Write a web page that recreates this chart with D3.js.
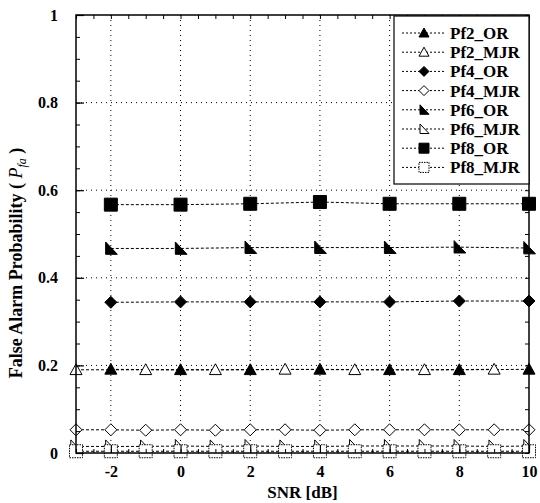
<!DOCTYPE html>
<html><head><meta charset="utf-8">
<script src="https://cdn.jsdelivr.net/npm/d3@7"></script>
<style>
html,body{margin:0;padding:0;background:#fff;}
text{font-family:"Liberation Serif","Times New Roman",serif;font-weight:bold;fill:#000;}
</style></head>
<body>
<svg id="chart" width="540" height="503"></svg>
<script>
// ---- data ----
const xEven = [-2, 0, 2, 4, 6, 8, 10];
const xOdd = [-3, -1, 1, 3, 5, 7, 9];
const xAll = [-3, -2, -1, 0, 1, 2, 3, 4, 5, 6, 7, 8, 9, 10];
const pf2_OR  = [0.191, 0.190, 0.190, 0.191, 0.190, 0.190, 0.191];
const pf2_MJR = [0.190, 0.190, 0.190, 0.191, 0.190, 0.190, 0.191];
const pf4_OR  = [0.344, 0.345, 0.345, 0.345, 0.345, 0.347, 0.347];
const pf4_MJR = [0.053, 0.053, 0.052, 0.053, 0.052, 0.053, 0.053, 0.052, 0.053, 0.053, 0.053, 0.053, 0.053, 0.053];
const pf6_OR  = [0.467, 0.467, 0.469, 0.469, 0.469, 0.470, 0.468];
const pf6_MJR = [0.015, 0.015, 0.015, 0.016, 0.015, 0.016, 0.015, 0.015, 0.016, 0.016, 0.016, 0.016, 0.015, 0.016];
const pf8_OR  = [0.567, 0.567, 0.569, 0.573, 0.569, 0.569, 0.569];
const pf8_MJR = [0.004, 0.004, 0.004, 0.004, 0.004, 0.004, 0.004, 0.004, 0.004, 0.004, 0.004, 0.004, 0.004, 0.004];
const seriesNames = ["Pf2_OR", "Pf2_MJR", "Pf4_OR", "Pf4_MJR", "Pf6_OR", "Pf6_MJR", "Pf8_OR", "Pf8_MJR"];
const xTickLabels = [-2, 0, 2, 4, 6, 8, 10];
const yTickLabels = [0, 0.2, 0.4, 0.6, 0.8, 1];

const series = [
  {name: seriesNames[0], xs: xEven, ys: pf2_OR, shape: "triUp", fill: true},
  {name: seriesNames[1], xs: xOdd, ys: pf2_MJR, shape: "triUp", fill: false},
  {name: seriesNames[2], xs: xEven, ys: pf4_OR, shape: "diamond", fill: true},
  {name: seriesNames[3], xs: xAll, ys: pf4_MJR, shape: "diamond", fill: false},
  {name: seriesNames[4], xs: xEven, ys: pf6_OR, shape: "rtri", fill: true},
  {name: seriesNames[5], xs: xAll, ys: pf6_MJR, shape: "rtri", fill: false},
  {name: seriesNames[6], xs: xEven, ys: pf8_OR, shape: "square", fill: true},
  {name: seriesNames[7], xs: xAll, ys: pf8_MJR, shape: "square", fill: false}
];

const svg = d3.select("#chart");
const L = 76, R = 529, T = 15, B = 453;
const x = d3.scaleLinear().domain([-3, 10]).range([L, R]);
const y = d3.scaleLinear().domain([0, 1]).range([B, T]);

function shapePath(shape, s) {
  if (shape === "triUp") return `M0,${-s}L${s},${s*0.8}L${-s},${s*0.8}Z`;
  if (shape === "diamond") return `M0,${-s}L${s},0L0,${s}L${-s},0Z`;
  if (shape === "rtri") return `M${-s*0.8},${-s}L${s},${s*0.9}L${-s*0.8},${s*0.9}Z`;
  return `M${-s},${-s}L${s},${-s}L${s},${s}L${-s},${s}Z`;
}
const sizeOf = {triUp: 6, diamond: 6, rtri: 6.5, square: 6.5};

// grid
const grid = svg.append("g");
grid.selectAll("line.gx").data(xTickLabels.filter(d => d > -3 && d < 10)).enter().append("line")
  .attr("x1", d => x(d)).attr("x2", d => x(d)).attr("y1", T).attr("y2", B)
  .attr("stroke", "#000").attr("stroke-width", 1).attr("stroke-dasharray", "1,4");
grid.selectAll("line.gy").data(yTickLabels.filter(d => d > 0 && d < 1)).enter().append("line")
  .attr("x1", L).attr("x2", R).attr("y1", d => y(d)).attr("y2", d => y(d))
  .attr("stroke", "#000").attr("stroke-width", 1).attr("stroke-dasharray", "1,4");

// series lines + markers
const line = d3.line().x(d => x(d[0])).y(d => y(d[1]));
series.forEach(s => {
  const pts = s.xs.map((v, i) => [v, s.ys[i]]);
  svg.append("path").attr("d", line(pts)).attr("fill", "none")
    .attr("stroke", "#000").attr("stroke-width", 1).attr("stroke-dasharray", "3,2");
  svg.append("g").selectAll("path").data(pts).enter().append("path")
    .attr("transform", d => `translate(${x(d[0])},${y(d[1])})`)
    .attr("d", shapePath(s.shape, sizeOf[s.shape]))
    .attr("fill", s.fill ? "#000" : "#fff")
    .attr("stroke", "#000").attr("stroke-width", 1)
    .attr("stroke-dasharray", (!s.fill && s.shape === "square") ? "1.5,1" : null);
});

// frame
svg.append("rect").attr("x", L).attr("y", T).attr("width", R - L).attr("height", B - T)
  .attr("fill", "none").attr("stroke", "#000").attr("stroke-width", 1.5);

// axes with inward ticks
const yMinor = d3.range(0, 1.0001, 0.05);
const xMinor = d3.range(-3, 10.0001, 0.5);
const axL = d3.axisLeft(y).tickValues(yMinor).tickSize(-4).tickFormat("");
const axR = d3.axisRight(y).tickValues(yMinor).tickSize(-4).tickFormat("");
const axB = d3.axisBottom(x).tickValues(xMinor).tickSize(-4).tickFormat("");
const axT = d3.axisTop(x).tickValues(xMinor).tickSize(-4).tickFormat("");
[[axL, `translate(${L},0)`], [axR, `translate(${R},0)`], [axB, `translate(0,${B})`], [axT, `translate(0,${T})`]]
  .forEach(([a, t]) => {
    const g = svg.append("g").attr("transform", t).call(a);
    g.select(".domain").remove();
    g.selectAll("line").attr("stroke", "#000");
  });
const majL = d3.axisLeft(y).tickValues(yTickLabels).tickSize(-8).tickPadding(18)
  .tickFormat(d => d === 0 || d === 1 ? String(d) : d.toFixed(1));
const gL = svg.append("g").attr("transform", `translate(${L},0)`).call(majL);
gL.select(".domain").remove();
gL.selectAll("line").attr("stroke", "#000").attr("stroke-width", 1.2);
gL.selectAll("text").style("font-size", "16px").style("font-family", "'Liberation Serif',serif").style("font-weight", "bold");
const majB = d3.axisBottom(x).tickValues(xTickLabels).tickSize(-8).tickPadding(13).tickFormat(d => String(d));
const gB = svg.append("g").attr("transform", `translate(0,${B})`).call(majB);
gB.select(".domain").remove();
gB.selectAll("line").attr("stroke", "#000").attr("stroke-width", 1.2);
gB.selectAll("text").style("font-size", "16px").style("font-family", "'Liberation Serif',serif").style("font-weight", "bold");

// axis titles
svg.append("text").attr("x", (L + R) / 2).attr("y", 498).attr("text-anchor", "middle")
  .style("font-size", "17px").text("SNR [dB]");
const yt = svg.append("text").attr("transform", `translate(22,263) rotate(-90)`)
  .attr("text-anchor", "middle").style("font-size", "18px");
yt.append("tspan").text("False Alarm Probability ( ");
yt.append("tspan").style("font-style", "italic").style("font-weight", "normal").text("P");
yt.append("tspan").attr("dy", 4).style("font-style", "italic").style("font-weight", "normal").style("font-size", "12px").text("fa");
yt.append("tspan").attr("dy", -4).text(" )");

// legend
const lg = svg.append("g");
lg.append("rect").attr("x", 394).attr("y", 16).attr("width", R - 394).attr("height", 168)
  .attr("fill", "#fff").attr("stroke", "#000").attr("stroke-width", 1.2);
series.forEach((s, i) => {
  const yy = 33 + i * 19.2;
  lg.append("line").attr("x1", 402).attr("x2", 446).attr("y1", yy).attr("y2", yy)
    .attr("stroke", "#000").attr("stroke-dasharray", "2,2");
  lg.append("path").attr("transform", `translate(424,${yy})`)
    .attr("d", shapePath(s.shape, 5))
    .attr("fill", s.fill ? "#000" : "#fff").attr("stroke", "#000")
    .attr("stroke-dasharray", (!s.fill && s.shape === "square") ? "1.5,1" : null);
  lg.append("text").attr("x", 450).attr("y", yy).attr("dy", "0.35em")
    .style("font-size", "17px").text(s.name);
});
</script>
</body></html>
